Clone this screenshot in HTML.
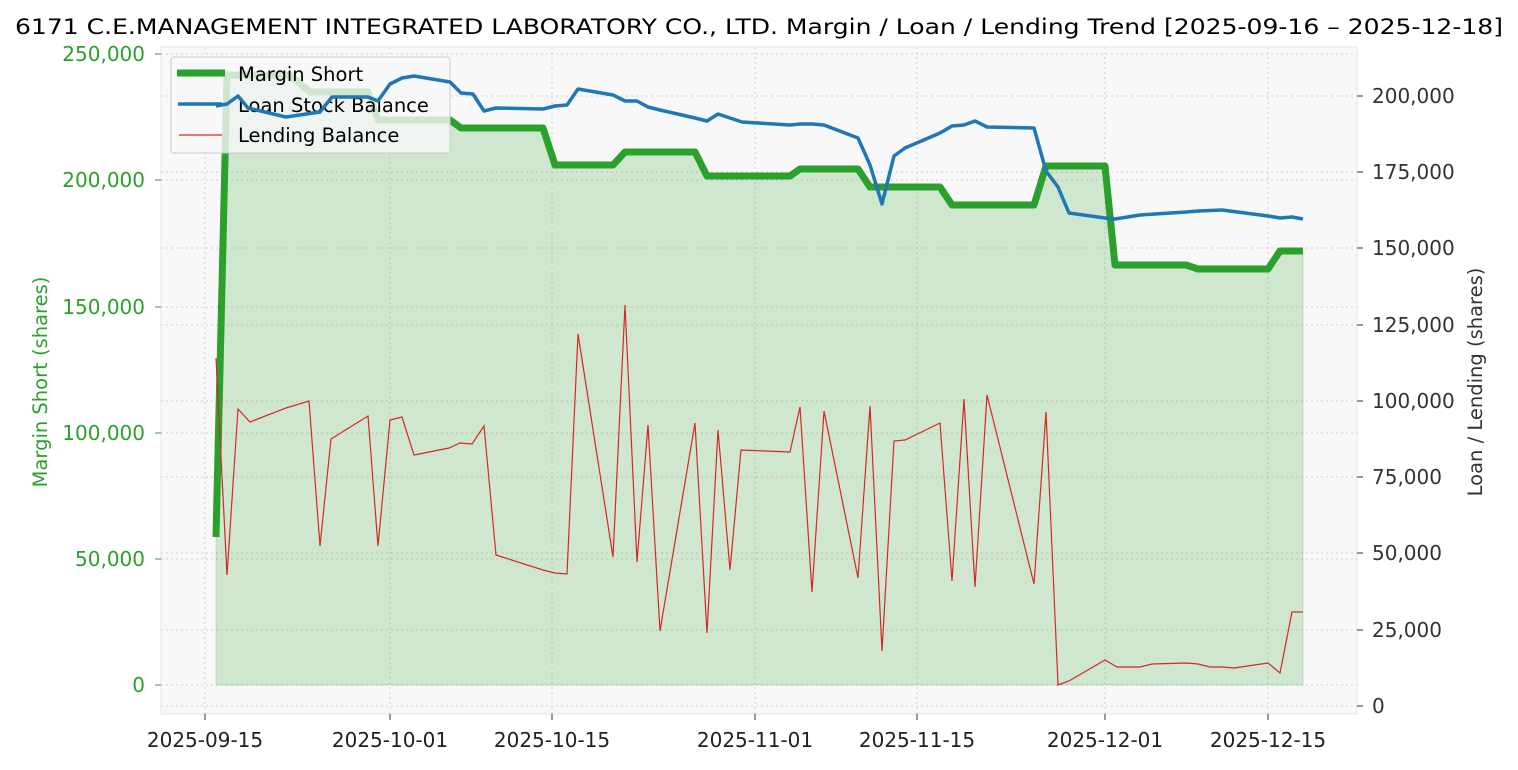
<!DOCTYPE html>
<html><head><meta charset="utf-8"><style>
body{margin:0;background:#fff}
text{font-family:"DejaVu Sans","Liberation Sans",sans-serif}
</style></head><body>
<svg width="1518" height="765" xmlns="http://www.w3.org/2000/svg">
<rect width="1518" height="765" fill="#fff"/>
<text x="15" y="34" font-size="21.5" textLength="1488" lengthAdjust="spacingAndGlyphs" fill="#000">6171 C.E.MANAGEMENT INTEGRATED LABORATORY CO., LTD. Margin / Loan / Lending Trend [2025-09-16 – 2025-12-18]</text>
<rect x="161" y="47" width="1196" height="667" fill="#f8f8f8" stroke="#e6e6e6"/>
<g stroke="#d0d0d0" stroke-dasharray="2,3" stroke-width="1">
<line x1="161" x2="1357" y1="685" y2="685"/><line x1="161" x2="1357" y1="559" y2="559"/><line x1="161" x2="1357" y1="433" y2="433"/><line x1="161" x2="1357" y1="307" y2="307"/><line x1="161" x2="1357" y1="180" y2="180"/><line x1="161" x2="1357" y1="54" y2="54"/>
<line x1="161" x2="1357" y1="706" y2="706"/><line x1="161" x2="1357" y1="630" y2="630"/><line x1="161" x2="1357" y1="553" y2="553"/><line x1="161" x2="1357" y1="477" y2="477"/><line x1="161" x2="1357" y1="401" y2="401"/><line x1="161" x2="1357" y1="325" y2="325"/><line x1="161" x2="1357" y1="248" y2="248"/><line x1="161" x2="1357" y1="172" y2="172"/><line x1="161" x2="1357" y1="96" y2="96"/>
<line y1="47" y2="714" x1="205" x2="205"/><line y1="47" y2="714" x1="390" x2="390"/><line y1="47" y2="714" x1="552" x2="552"/><line y1="47" y2="714" x1="755" x2="755"/><line y1="47" y2="714" x1="917" x2="917"/><line y1="47" y2="714" x1="1105" x2="1105"/><line y1="47" y2="714" x1="1268" x2="1268"/>
</g>
<polygon fill="#2ca02c" fill-opacity="0.2" stroke="#2ca02c" stroke-opacity="0.2" points="216,685 216,537 227,75 290,75 310,92 368,92 378,120 450,120 461,128 543,128 555,165 613,165 625,152 695,152 707,176 790,176 800,169 858,169 870,187 940,187 952,205 1034,205 1046,166 1105,166 1115,265 1186,265 1198,269 1268,269 1280,251 1303,251 1303,685"/>
<polyline fill="none" stroke="#2ca02c" stroke-width="7" stroke-linejoin="round" points="216,537 227,75 290,75 310,92 368,92 378,120 450,120 461,128 543,128 555,165 613,165 625,152 695,152 707,176 790,176 800,169 858,169 870,187 940,187 952,205 1034,205 1046,166 1105,166 1115,265 1186,265 1198,269 1268,269 1280,251 1303,251"/>
<rect x="171" y="57" width="279" height="96" rx="3" fill="#f8f8f8" fill-opacity="0.8" stroke="#ccc"/>
<line x1="177" x2="225" y1="73" y2="73" stroke="#2ca02c" stroke-width="7"/>
<line x1="178" x2="222" y1="104" y2="104" stroke="#1f77b4" stroke-width="3.5"/>
<line x1="179" x2="222" y1="135" y2="135" stroke="#d62728" stroke-width="1.2"/>
<g font-size="19.5" fill="#000"><text x="238" y="81">Margin Short</text><text x="238" y="112">Loan Stock Balance</text><text x="238" y="142">Lending Balance</text></g>
<polyline fill="none" stroke="#1f77b4" stroke-width="3.5" stroke-linejoin="round" points="216,106 227,104 238,96 248,108 286,117 320,112 332,97 368,97 378,101 390,84 402,78 414,76 450,82 461,93 473,94 484,111 496,108 543,109 555,106 567,105 578,89 613,95 625,101 637,101 648,107 660,110 695,118 707,121 718,114 742,122 790,125 800,124 812,124 824,125 858,138 870,165 882,204 894,156 905,148 940,133 952,126 964,125 975,121 987,127 1034,128 1046,171 1058,187 1069,213 1105,218 1115,219 1140,215 1186,212 1198,211 1222,210 1268,216 1280,218 1292,217 1303,219"/>
<polyline fill="none" stroke="#d62728" stroke-width="1.2" points="216,358 227,575 238,409 250,422 286,408 309,401 320,546 331,439 368,416 378,546 390,420 402,417 414,455 449,448 460,443 472,444 484,426 496,555 543,570 555,573 567,574 578,334 613,557 625,305 637,562 648,425 660,631 695,423 707,633 718,430 730,570 741,450 790,452 800,407 812,592 824,411 858,578 870,406 882,651 894,441 905,440 940,423 952,581 964,399 975,587 987,395 1034,584 1046,412 1058,685 1069,681 1105,660 1117,667 1127,667 1140,667 1152,664 1186,663 1198,664 1210,667 1222,667 1234,668 1268,663 1280,673 1292,612 1303,612"/>
<g font-size="20" fill="#2ca02c" text-anchor="end">
<text x="145" y="692">0</text><text x="145" y="566">50,000</text><text x="145" y="440">100,000</text><text x="145" y="314">150,000</text><text x="145" y="187">200,000</text><text x="145" y="61">250,000</text>
</g>
<g stroke="#2ca02c"><line x1="155" x2="161" y1="685" y2="685"/><line x1="155" x2="161" y1="559" y2="559"/><line x1="155" x2="161" y1="433" y2="433"/><line x1="155" x2="161" y1="307" y2="307"/><line x1="155" x2="161" y1="180" y2="180"/><line x1="155" x2="161" y1="54" y2="54"/></g>
<g font-size="20" fill="#333">
<text x="1372" y="713">0</text><text x="1372" y="637">25,000</text><text x="1372" y="560">50,000</text><text x="1372" y="484">75,000</text><text x="1372" y="408">100,000</text><text x="1372" y="332">125,000</text><text x="1372" y="255">150,000</text><text x="1372" y="179">175,000</text><text x="1372" y="103">200,000</text>
</g>
<g stroke="#333"><line x1="1357" x2="1363" y1="706" y2="706"/><line x1="1357" x2="1363" y1="630" y2="630"/><line x1="1357" x2="1363" y1="553" y2="553"/><line x1="1357" x2="1363" y1="477" y2="477"/><line x1="1357" x2="1363" y1="401" y2="401"/><line x1="1357" x2="1363" y1="325" y2="325"/><line x1="1357" x2="1363" y1="248" y2="248"/><line x1="1357" x2="1363" y1="172" y2="172"/><line x1="1357" x2="1363" y1="96" y2="96"/></g>
<g font-size="20" fill="#222" text-anchor="middle">
<text x="205" y="747">2025-09-15</text><text x="390" y="747">2025-10-01</text><text x="552" y="747">2025-10-15</text><text x="755" y="747">2025-11-01</text><text x="917" y="747">2025-11-15</text><text x="1105" y="747">2025-12-01</text><text x="1268" y="747">2025-12-15</text>
</g>
<g stroke="#333"><line x1="205" x2="205" y1="714" y2="720"/><line x1="390" x2="390" y1="714" y2="720"/><line x1="552" x2="552" y1="714" y2="720"/><line x1="755" x2="755" y1="714" y2="720"/><line x1="917" x2="917" y1="714" y2="720"/><line x1="1105" x2="1105" y1="714" y2="720"/><line x1="1268" x2="1268" y1="714" y2="720"/></g>
<text transform="translate(47,382) rotate(-90)" font-size="19.5" fill="#2ca02c" text-anchor="middle">Margin Short (shares)</text>
<text transform="translate(1482,382) rotate(-90)" font-size="19.5" fill="#333" text-anchor="middle">Loan / Lending (shares)</text>
</svg>
</body></html>
